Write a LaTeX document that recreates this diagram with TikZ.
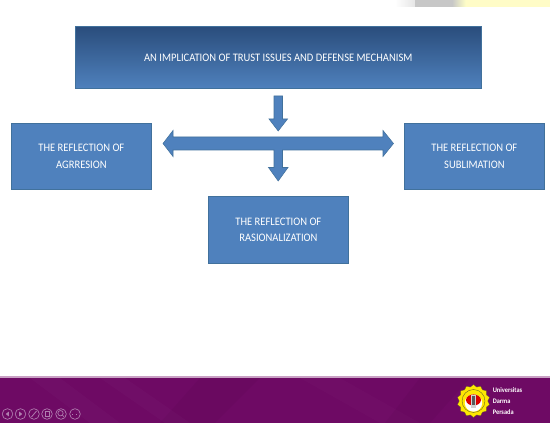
\documentclass[tikz,border=0pt]{standalone}
\usepackage{fontspec}
\setmainfont[FakeStretch=0.92]{Carlito}
\usetikzlibrary{shapes.geometric}
\definecolor{bluefill}{HTML}{4F81BD}
\definecolor{blueedge}{HTML}{41719C}
\definecolor{bluedark}{HTML}{2A4D7C}
\definecolor{purplebar}{HTML}{6E0A64}
\definecolor{purpleline}{HTML}{C9A0C4}
\definecolor{iconline}{HTML}{B07FB0}
\tikzset{
  x=0.75pt,y=-0.75pt,
  bluebox/.style={draw=blueedge,line width=0.6pt,fill=bluefill,text=white,align=center,inner sep=0pt,font=\fontsize{8.6pt}{12.4pt}\selectfont},
  blockarrow/.style={fill=bluefill,draw=blueedge,line width=0.4pt,line join=miter},
  navicon/.style={circle,draw=iconline,line width=0.5pt,minimum size=8pt,inner sep=0pt},
  navmark/.style={fill=iconline,draw=none}
}
\begin{document}
\begin{tikzpicture}
\useasboundingbox (0,0) rectangle (550,423);
\fill[white] (0,0) rectangle (550,423);
% top strip
\shade[left color=white,right color=black!10,draw=none] (395,0) rectangle (415,7);
\fill[black!22] (415,0) rectangle (452,7);
\shade[left color=black!22,right color=yellow!22,draw=none] (452,0) rectangle (466,7);
\fill[yellow!22] (466,0) rectangle (550,7);
% boxes
\node[bluebox,minimum width=304pt,minimum height=46.5pt,anchor=north west,top color=bluedark,bottom color=bluefill] (top) at (75.2,26) {\raisebox{-1.2pt}{AN IMPLICATION OF TRUST ISSUES AND DEFENSE MECHANISM}};
\node[bluebox,minimum width=105pt,minimum height=49.5pt,anchor=north west] (left) at (11,123) {THE REFLECTION OF\\AGRRESION};
\node[bluebox,minimum width=105pt,minimum height=49.5pt,anchor=north west] (right) at (404,123) {THE REFLECTION OF\\SUBLIMATION};
\node[bluebox,minimum width=105pt,minimum height=50pt,anchor=north west] (bottom) at (208,196) {THE REFLECTION OF\\RASIONALIZATION};
% arrows
\draw[blockarrow] (274,96) -- (282.5,96) -- (282.5,119) -- (287.5,119) -- (278.2,131) -- (269,119) -- (274,119) -- cycle;
\draw[blockarrow] (163,143.5) -- (173,130.5) -- (173,137) -- (383,137) -- (383,130.5) -- (393.5,143.5) -- (383,156.5) -- (383,150) -- (282.5,150) -- (282.5,167.5) -- (288,167.5) -- (278.2,181) -- (268.5,167.5) -- (274,167.5) -- (274,150) -- (173,150) -- (173,156.5) -- cycle;
% footer
\fill[purplebar] (0,377) rectangle (550,423);
\fill[purpleline] (0,376.5) rectangle (550,378);
\fill[white,opacity=0.02] (30,378) -- (60,378) -- (120,423) -- (90,423) -- cycle;
\fill[white,opacity=0.02] (100,378) -- (125,378) -- (190,423) -- (165,423) -- cycle;
\fill[black,opacity=0.03] (200,378) -- (260,378) -- (215,423) -- (160,423) -- cycle;
\fill[white,opacity=0.015] (300,378) -- (340,378) -- (420,423) -- (380,423) -- cycle;
\fill[black,opacity=0.03] (420,378) -- (470,378) -- (430,423) -- (385,423) -- cycle;
% navigation icons
\node[navicon] (n1) at (7.5,414) {};
\node[navicon] (n2) at (20.5,414) {};
\node[navicon] (n3) at (34,414) {};
\node[navicon] (n4) at (47,414) {};
\node[navicon] (n5) at (61,414) {};
\node[navicon] (n6) at (75,414) {};
\fill[navmark] (5.8,414) -- (8.8,411.6) -- (8.8,416.4) -- cycle;
\fill[navmark] (22.2,414) -- (19.2,411.6) -- (19.2,416.4) -- cycle;
\draw[iconline,line width=0.6pt] (31.5,417) -- (36.5,411);
\draw[iconline,line width=0.5pt] (45,411.5) rectangle (49,416.5);
\draw[iconline,line width=0.5pt] (60.5,413.2) circle (2pt) (62.4,415.1) -- (64,416.8);
\draw[iconline,line width=0.7pt,dotted] (72,414) -- (78,414);
% logo
\node[star,star points=14,star point ratio=1.15,fill=yellow!90!orange,draw=olive!60!black,line width=0.15pt,minimum size=24.5pt,inner sep=0pt] (gear) at (473.5,401) {};
\fill[white] (473.5,403) circle (6.5pt);
\fill[red!85!black] (473.5,400) ellipse (5.6pt and 4.2pt);
\fill[black!18] (471,395.5) rectangle (476,408);
\fill[black!65] (472.2,396) rectangle (474.8,405);
\draw[olive!50!black,line width=0.25pt] (gear.center) circle (8.6pt);
% university name
\node[anchor=north west,inner sep=0pt,text=white,align=left,font=\fontsize{5.2pt}{8.1pt}\selectfont\bfseries] (uni) at (492.5,387.5) {Universitas\\Darma\\Persada};
\end{tikzpicture}
\end{document}
